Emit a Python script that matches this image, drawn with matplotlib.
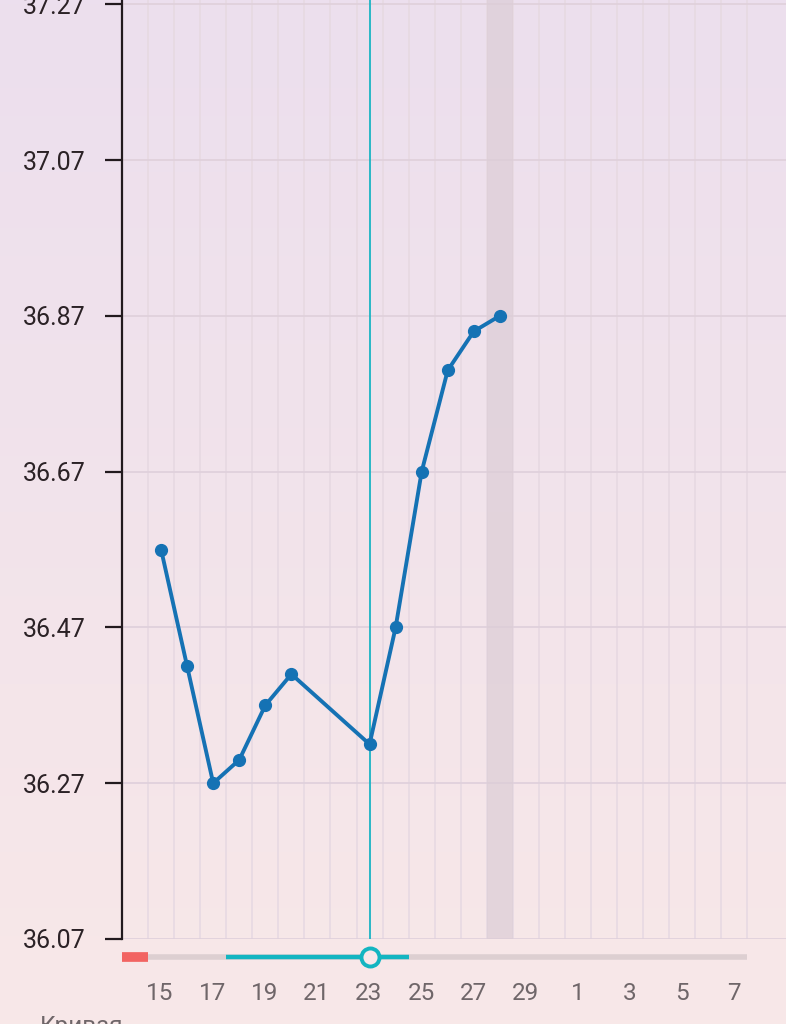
# basal temperature chart, cycle days 14..7

import numpy as np
import matplotlib.pyplot as plt

plt.rcParams['font.family'] = ['Roboto', 'DejaVu Sans']

dayLabels = [14, 15, 16, 17, 18, 19, 20, 21, 22, 23, 24, 25, 26, 27, 28, 29, 30,
             1, 2, 3, 4, 5, 6, 7]
temps = [None, 36.57, 36.42, 36.27, 36.30, 36.37, 36.41, None, None, 36.32,
         36.47, 36.67, 36.80, 36.85, 36.87]
yTicks = [36.07, 36.27, 36.47, 36.67, 36.87, 37.07, 37.27]

selectedDay = 9      # index of day 23
highlightDay = 14    # index of day 28
periodDays = [0]     # red segment on slider
fertileStart = 3.5
fertileEnd = 10.5

W, H = 786, 1024
fig = plt.figure(figsize=(W / 100, H / 100), dpi=100)

# background gradient, lavender on top to pink at bottom
bg = fig.add_axes([0, 0, 1, 1])
top = np.array([236, 223, 238]) / 255
bottom = np.array([248, 232, 232]) / 255
t = np.linspace(0, 1, 256)[:, None]
grad = top * (1 - t) + bottom * t
bg.imshow(grad[:, None, :], aspect='auto', extent=[0, 1, 0, 1])
bg.axis('off')

left = 122 / W
axBottom = 1 - 939 / H
ax = fig.add_axes([left, axBottom, 1 - left, 1 - axBottom])
ax.patch.set_alpha(0)

n = len(dayLabels)
xmin, xmax = -0.5, (W - 134) / 26.1
ax.set_xlim(xmin, xmax)
ax.set_ylim(36.07, 36.07 + 939 / 779)

# vertical separators between days
for b in np.arange(-0.5, n, 1.0)[1:]:
    ax.axvline(b, color='#e7d9e2', lw=1.2, zorder=0)
for yt in yTicks:
    ax.axhline(yt, color='#e0d1dc', lw=1.3, zorder=0)

ax.axvspan(highlightDay - 0.5, highlightDay + 0.5, color='#dccdd6', alpha=0.7, zorder=0.5, lw=0)
ax.axvline(selectedDay, color='#1ab4c4', lw=1.3, zorder=1)

xs = [i for i, v in enumerate(temps) if v is not None]
ys = [v for v in temps if v is not None]
ax.plot(xs, ys, color='#1572b4', lw=2.8, marker='o', markersize=8.5, zorder=3,
        solid_joinstyle='round')

ax.set_yticks(yTicks)
ax.set_yticklabels(['%.2f' % v for v in yTicks], fontsize=18, color='#2b2226')
ax.tick_params(axis='y', length=12, width=1.6, color='#221a1e', pad=14)
ax.set_xticks([])
for s in ['top', 'right', 'bottom']:
    ax.spines[s].set_visible(False)
ax.spines['left'].set_color('#221a1e')
ax.spines['left'].set_linewidth(1.6)

# slider strip under the chart
sl = fig.add_axes([left, 1 - 975 / H, 1 - left, 36 / H])
sl.axis('off')
sl.set_xlim(xmin, xmax)
sl.set_ylim(-1, 1)
sl.plot([0.5, n - 0.5], [0, 0], color='#ddcfd1', lw=4, solid_capstyle='butt')
for d in periodDays:
    sl.plot([d - 0.5, d + 0.5], [0, 0], color='#f26462', lw=7, solid_capstyle='butt')
sl.plot([fertileStart, fertileEnd], [0, 0], color='#13b5c1', lw=3.2, solid_capstyle='butt')
sl.plot([selectedDay], [0], marker='o', markersize=13, markerfacecolor='#f8e8ea',
        markeredgecolor='#13b5c1', markeredgewidth=2.8)

# day labels
for i, d in enumerate(dayLabels):
    if i % 2 == 1:
        fig.text((134 + i * 26.1) / W, 1 - 993 / H, str(d), ha='center', va='center',
                 fontsize=17.5, color='#6f6669')

fig.text(40 / W, 1 - 1033 / H, 'Кривая', ha='left', va='baseline', fontsize=17.5, color='#6f6669')

fig.savefig('out.png', dpi=100)
